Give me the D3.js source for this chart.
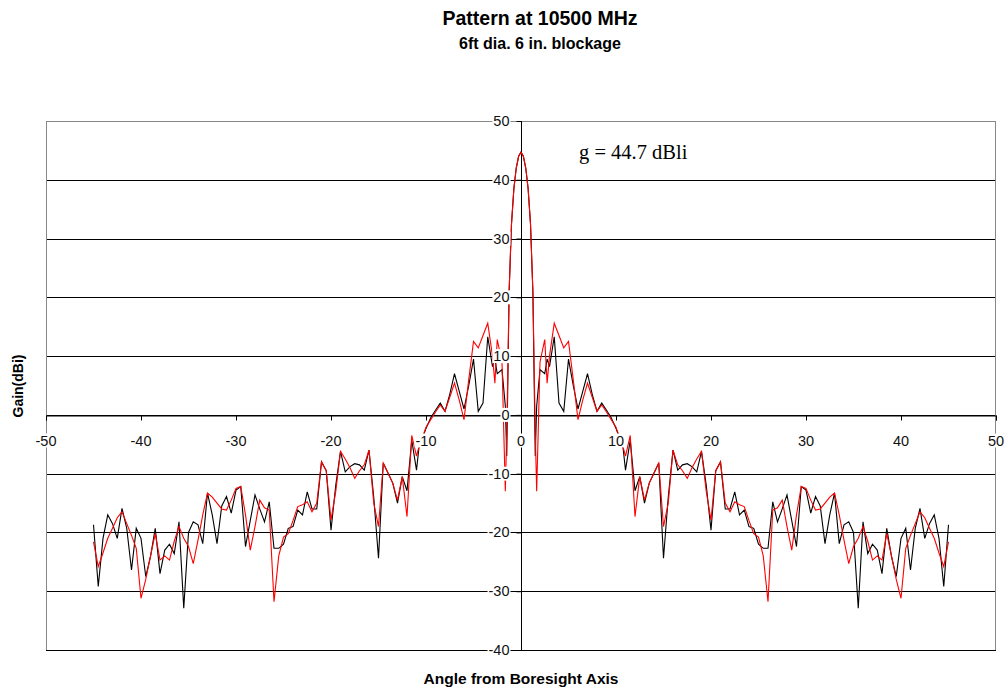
<!DOCTYPE html>
<html>
<head>
<meta charset="utf-8">
<script src="https://cdn.jsdelivr.net/npm/d3@7"></script>
<style>
  html, body { margin: 0; padding: 0; background: #fff; }
  svg { display: block; }
</style>
</head>
<body>
<svg id="chart" width="1006" height="691"></svg>
<script>
// Antenna pattern, 10500 MHz, 6 ft dish with 6 in. central blockage.
// Angle from boresight (degrees) and gain (dBi) for the two traces.
const angles = [
  -45,-44.5,-44,-43.5,-43,-42.5,-42,-41.5,-41,-40.5,-40,-39.5,-39,-38.5,-38,-37.5,-37,-36.5,-36,-35.5,
  -35,-34.5,-34,-33.5,-33,-32.5,-32,-31.5,-31,-30.5,-30,-29.5,-29,-28.5,-28,-27.5,-27,-26.5,-26,-25.5,
  -25,-24.5,-24,-23.5,-23,-22.5,-22,-21.5,-21,-20.5,-20,-19.5,-19,-18.5,-18,-17.5,-17,-16.5,-16,-15.5,
  -15,-14.5,-14,-13.5,-13,-12.5,-12,-11.5,-11,-10.75,
  -10,-9.5,-9,-8.5,-8,-7.5,-7,-6.5,-6,-5.5,-5,-4.5,-4,-3.5,-3,-2.75,-2.5,-2,-1.65,-1.5,-1.25,-1,-0.75,-0.5,-0.25,
  0,
  0.25,0.5,0.75,1,1.25,1.5,1.65,2,2.5,2.75,3,3.5,4,4.5,5,5.5,6,6.5,7,7.5,8,8.5,9,9.5,10,
  10.75,11,11.5,12,12.5,13,13.5,14,14.5,15,15.5,16,16.5,17,17.5,18,18.5,19,19.5,20,
  20.5,21,21.5,22,22.5,23,23.5,24,24.5,25,25.5,26,26.5,27,27.5,28,28.5,29,29.5,30,
  30.5,31,31.5,32,32.5,33,33.5,34,34.5,35,35.5,36,36.5,37,37.5,38,38.5,39,39.5,40,
  40.5,41,41.5,42,42.5,43,43.5,44,44.5,45
];

// Black trace (gain, dBi)
const gainBlack = [
  -18.7,-29.2,-21.0,-17.0,-18.5,-21.0,-15.9,-19.3,-26.4,-19.3,-21.0,-27.5,-24.1,-19.3,-27.0,-23.0,-22.0,-23.6,-18.2,-32.9,
  -20.0,-18.2,-18.7,-21.9,-13.3,-17.0,-21.9,-15.5,-13.9,-16.7,-12.8,-12.2,-22.4,-18.0,-13.6,-16.0,-18.2,-14.8,-22.7,-22.7,
  -22.0,-19.3,-19.0,-16.2,-17.0,-13.1,-16.0,-16.0,-8.0,-9.5,-19.6,-12.0,-6.2,-9.7,-8.8,-8.3,-8.5,-9.4,-6.0,-14.0,
  -24.4,-8.2,-9.9,-11.6,-15.0,-10.5,-12.9,-4.3,-9.4,-5.7,
  -2.3,-0.5,0.8,2.0,0.6,3.5,7.0,4.0,1.0,5.0,9.5,0.6,2.0,13.3,8.2,9.5,7.0,7.7,1.5,-7.0,21.0,32.5,38.5,42.0,44.0,
  44.7,
  44.0,42.0,38.5,32.5,21.0,-7.0,1.5,7.7,7.0,9.5,8.2,13.3,2.0,0.6,9.5,5.0,1.0,4.0,7.0,3.5,0.6,2.0,0.8,-0.5,-2.3,
  -5.7,-9.4,-4.3,-12.9,-10.5,-15.0,-11.6,-9.9,-8.2,-24.4,-14.0,-6.0,-9.4,-8.5,-8.3,-8.8,-9.7,-6.2,-12.0,-19.6,
  -9.5,-8.0,-16.0,-16.0,-13.1,-17.0,-16.2,-19.0,-19.3,-22.0,-22.7,-22.7,-14.8,-18.2,-16.0,-13.6,-18.0,-22.4,-12.2,-12.8,
  -16.7,-13.9,-15.5,-21.9,-17.0,-13.3,-21.9,-18.7,-18.2,-20.0,-32.9,-18.2,-23.6,-22.0,-23.0,-27.0,-19.3,-24.1,-27.5,-21.0,
  -19.3,-26.4,-19.3,-15.9,-21.0,-18.5,-17.0,-21.0,-29.2,-18.7
];

// Red trace (gain, dBi)
const gainRed = [
  -21.6,-25.8,-23.5,-21.0,-19.3,-17.5,-16.5,-18.5,-20.5,-22.7,-31.2,-28.0,-24.0,-20.2,-24.7,-24.0,-24.7,-21.5,-19.0,-21.0,
  -22.4,-25.3,-21.3,-17.0,-13.3,-14.0,-15.0,-16.0,-16.2,-14.5,-12.5,-12.2,-17.0,-23.0,-19.0,-14.5,-15.8,-16.2,-31.8,-24.0,
  -20.8,-20.2,-18.0,-15.6,-15.3,-14.8,-16.5,-15.0,-8.0,-9.5,-17.9,-13.0,-6.2,-7.5,-9.0,-10.8,-9.5,-8.5,-6.0,-15.0,
  -19.0,-8.2,-9.9,-11.6,-14.5,-10.5,-17.3,-3.5,-7.0,-5.5,
  -2.1,-0.8,0.5,1.7,0.6,3.0,5.4,2.5,-0.8,6.0,12.5,11.4,13.5,15.6,10.0,5.4,12.8,9.0,-13.0,-3.0,21.0,32.5,38.5,42.0,44.0,
  44.7,
  44.0,42.0,38.5,32.5,21.0,-3.0,-13.0,9.0,12.8,5.4,10.0,15.6,13.5,11.4,12.5,6.0,-0.8,2.5,5.4,3.0,0.6,1.7,0.5,-0.8,-2.1,
  -5.5,-7.0,-3.5,-17.3,-10.5,-14.5,-11.6,-9.9,-8.2,-19.0,-15.0,-6.0,-8.5,-9.5,-10.8,-9.0,-7.5,-6.2,-13.0,-17.9,
  -9.5,-8.0,-15.0,-16.5,-14.8,-15.3,-15.6,-18.0,-20.2,-20.8,-24.0,-31.8,-16.2,-15.8,-14.5,-19.0,-23.0,-17.0,-12.2,-12.5,
  -14.5,-16.2,-16.0,-15.0,-14.0,-13.3,-17.0,-21.3,-25.3,-22.4,-21.0,-19.0,-21.5,-24.7,-24.0,-24.7,-20.2,-24.0,-28.0,-31.2,
  -22.7,-20.5,-18.5,-16.5,-17.5,-19.3,-21.0,-23.5,-25.8,-21.6
];

const xTicks = [-50, -40, -30, -20, -10, 0, 10, 20, 30, 40, 50];
const yTicks = [-40, -30, -20, -10, 0, 10, 20, 30, 40, 50];
const peakGain = 44.7;

const titleText = "Pattern at 10500 MHz";
const subtitleText = "6ft dia. 6 in. blockage";
const xTitleText = "Angle from Boresight Axis";
const yTitleText = "Gain(dBi)";

// ---- layout ----
const svg = d3.select("#chart");
const plot = { left: 46, right: 996, top: 121, bottom: 650 };

const x = d3.scaleLinear().domain([-50, 50]).range([plot.left, plot.right]);
const y = d3.scaleLinear().domain([-40, 50]).range([plot.bottom, plot.top]);

const sans = "'Liberation Sans', Arial, sans-serif";
const serif = "'Liberation Serif', 'Times New Roman', serif";

// titles
svg.append("text")
  .attr("x", 540).attr("y", 25)
  .attr("text-anchor", "middle")
  .attr("font-family", sans).attr("font-weight", "bold").attr("font-size", 19.5)
  .text(titleText);
svg.append("text")
  .attr("x", 540).attr("y", 49)
  .attr("text-anchor", "middle")
  .attr("font-family", sans).attr("font-weight", "bold").attr("font-size", 16)
  .text(subtitleText);

// horizontal gridlines
svg.append("g")
  .selectAll("line")
  .data(yTicks)
  .join("line")
  .attr("x1", plot.left).attr("x2", plot.right)
  .attr("y1", d => Math.round(y(d)) + 0.5).attr("y2", d => Math.round(y(d)) + 0.5)
  .attr("stroke", d => d === 50 ? "#888" : "#000")
  .attr("stroke-width", 1);

// plot frame (sides)
svg.append("line")
  .attr("x1", plot.left + 0.5).attr("x2", plot.left + 0.5)
  .attr("y1", y(50)).attr("y2", y(-40))
  .attr("stroke", "#888");
svg.append("line")
  .attr("x1", plot.right - 0.5).attr("x2", plot.right - 0.5)
  .attr("y1", y(50)).attr("y2", y(-40))
  .attr("stroke", "#888");

// axes crossing at the origin
const x0 = Math.round(x(0)) + 0.5;
const y0 = Math.round(y(0)) + 0.5;

const xAxis = d3.axisBottom(x).tickValues(xTicks).tickSize(5).tickFormat("");
svg.append("g")
  .attr("transform", `translate(0,${y0})`)
  .call(xAxis)
  .call(g => g.select(".domain").attr("stroke", "#000"))
  .call(g => g.selectAll(".tick line").attr("stroke", "#000"));

const yAxis = d3.axisLeft(y).tickValues(yTicks).tickSize(5).tickFormat("");
svg.append("g")
  .attr("transform", `translate(${x0},0)`)
  .call(yAxis)
  .call(g => g.select(".domain").attr("stroke", "#000").attr("d", `M0,${y(50)}V${y(-40)}`))
  .call(g => g.selectAll(".tick line").attr("stroke", "#000"));

// pattern traces
const points = angles.map((a, i) => ({ a, black: gainBlack[i], red: gainRed[i] }));

const lineBlack = d3.line().x(d => x(d.a)).y(d => y(d.black));
const lineRed = d3.line().x(d => x(d.a)).y(d => y(d.red));

svg.append("path")
  .datum(points)
  .attr("d", lineBlack)
  .attr("fill", "none")
  .attr("stroke", "#000")
  .attr("stroke-width", 1.1);

svg.append("path")
  .datum(points)
  .attr("d", lineRed)
  .attr("fill", "none")
  .attr("stroke", "#ff0000")
  .attr("stroke-width", 1.1);

// tick labels, each on an opaque white box
function labelWithBox(g, tx, ty, txt, anchor) {
  const t = g.append("text")
    .attr("x", tx).attr("y", ty)
    .attr("text-anchor", anchor)
    .attr("dominant-baseline", "central")
    .attr("font-family", sans).attr("font-size", 14.5)
    .attr("fill", "#111")
    .text(txt);
  const b = t.node().getBBox();
  g.insert("rect", "text")
    .attr("x", b.x - 1).attr("y", b.y + 1)
    .attr("width", b.width + 2).attr("height", b.height - 2)
    .attr("fill", "#fff");
}

yTicks.forEach(v => {
  const g = svg.append("g");
  labelWithBox(g, x0 - 12, y(v), String(v), "end");
});
xTicks.forEach(v => {
  const g = svg.append("g");
  labelWithBox(g, x(v), y0 + 25, String(v), "middle");
});

// axis titles
svg.append("text")
  .attr("transform", `translate(23,386) rotate(-90)`)
  .attr("text-anchor", "middle")
  .attr("font-family", sans).attr("font-weight", "bold").attr("font-size", 14)
  .text(yTitleText);
svg.append("text")
  .attr("x", 521).attr("y", 684)
  .attr("text-anchor", "middle")
  .attr("font-family", sans).attr("font-weight", "bold").attr("font-size", 15.5)
  .text(xTitleText);

// peak gain annotation
svg.append("text")
  .attr("x", 579).attr("y", 159)
  .attr("font-family", serif).attr("font-size", 20.5)
  .text(`g = ${peakGain} dBli`);
</script>
</body>
</html>
